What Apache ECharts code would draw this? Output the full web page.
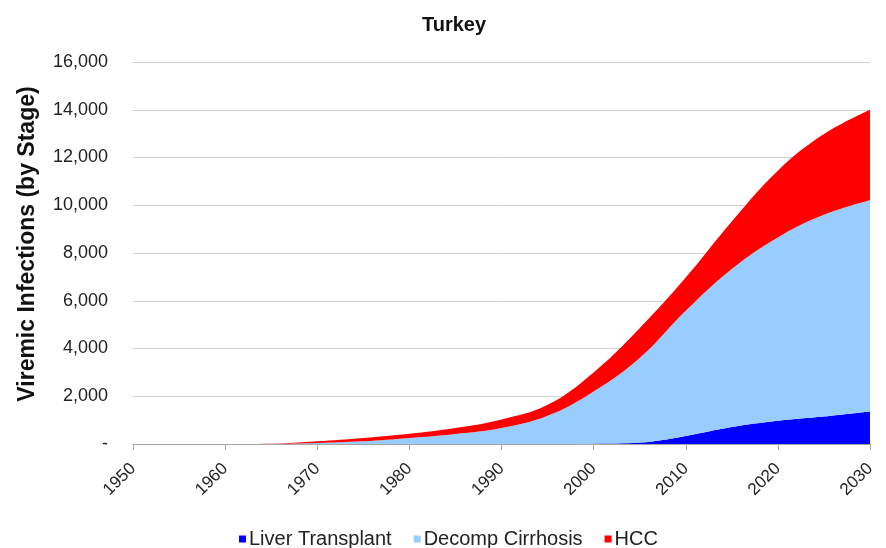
<!DOCTYPE html>
<html>
<head>
<meta charset="utf-8">
<script src="https://cdn.jsdelivr.net/npm/echarts@6/dist/echarts.min.js"></script>
<style>html,body{margin:0;padding:0;background:#fff}#c{width:886px;height:548px}</style>
</head>
<body>
<div id="c"></div>
<script>
const years  = [1950,1955,1960,1965,1970,1975,1980,1985,1990,1995,2000,2005,2010,2015,2020,2025,2030];
const liverTransplant = [0,0,0,0,0,0,0,0,0,0,10,60,340,710,975,1150,1360];
const decompCirrhosis = [0,0,0,5,40,110,250,420,670,1180,2190,3540,5240,6620,7675,8450,8850];
const hcc             = [0,0,0,5,70,140,180,250,360,460,800,1250,1390,1990,2800,3380,3790];
const seriesNames = ['Liver Transplant','Decomp Cirrhosis','HCC'];
const seriesColors = ['#0000ff','#99ccff','#ff0000'];
const FONT = '"Liberation Sans", Arial, sans-serif';

const chart = echarts.init(document.getElementById('c'), null, {renderer:'canvas'});
const seriesData = [liverTransplant, decompCirrhosis, hcc];
const isDecade = (idx) => idx % 2 === 0;

chart.setOption({
  animation:false,
  backgroundColor:'#fff',
  title:{text:'Turkey', left:449, top:10, textAlign:'center',
    textStyle:{fontFamily:FONT, fontWeight:'bold', fontSize:20, color:'#111'}},
  graphic:[{type:'text', x:28, y:244, rotation:Math.PI/2,
    style:{text:'Viremic Infections (by Stage)', fontFamily:FONT, fontWeight:'bold', fontSize:23,
      fill:'#111', align:'center', verticalAlign:'middle'}}],
  legend:{left:234, top:524, itemWidth:7, itemHeight:7, itemGap:22, icon:'rect',
    textStyle:{fontFamily:FONT, fontSize:20, color:'#222', padding:[0,0,0,-2]},
    data:seriesNames},
  grid:{left:133, right:16, top:62, bottom:104},
  xAxis:{type:'category', boundaryGap:false, data:years.map(String),
    axisLine:{lineStyle:{color:'#a6a6a6'}},
    axisTick:{length:6, interval:(i)=>isDecade(i), lineStyle:{color:'#a6a6a6'}},
    splitLine:{show:false},
    axisLabel:{rotate:45, margin:22, interval:(i)=>isDecade(i), fontFamily:FONT, fontSize:17, color:'#222'}},
  yAxis:{type:'value', min:0, max:16000, interval:2000,
    axisLine:{show:false}, axisTick:{show:false},
    splitLine:{lineStyle:{color:'#d0d0d0'}},
    axisLabel:{margin:25, fontFamily:FONT, fontSize:18, color:'#222',
      formatter:v=> v===0 ? '-' : v.toLocaleString('en-US')}},
  series: seriesNames.map((n,i)=>({
    name:n, type:'line', stack:'total', smooth:0.4, showSymbol:false,
    lineStyle:{width:0}, itemStyle:{color:seriesColors[i]},
    areaStyle:{color:seriesColors[i], opacity:1},
    data: seriesData[i]
  }))
});
</script>
</body>
</html>
